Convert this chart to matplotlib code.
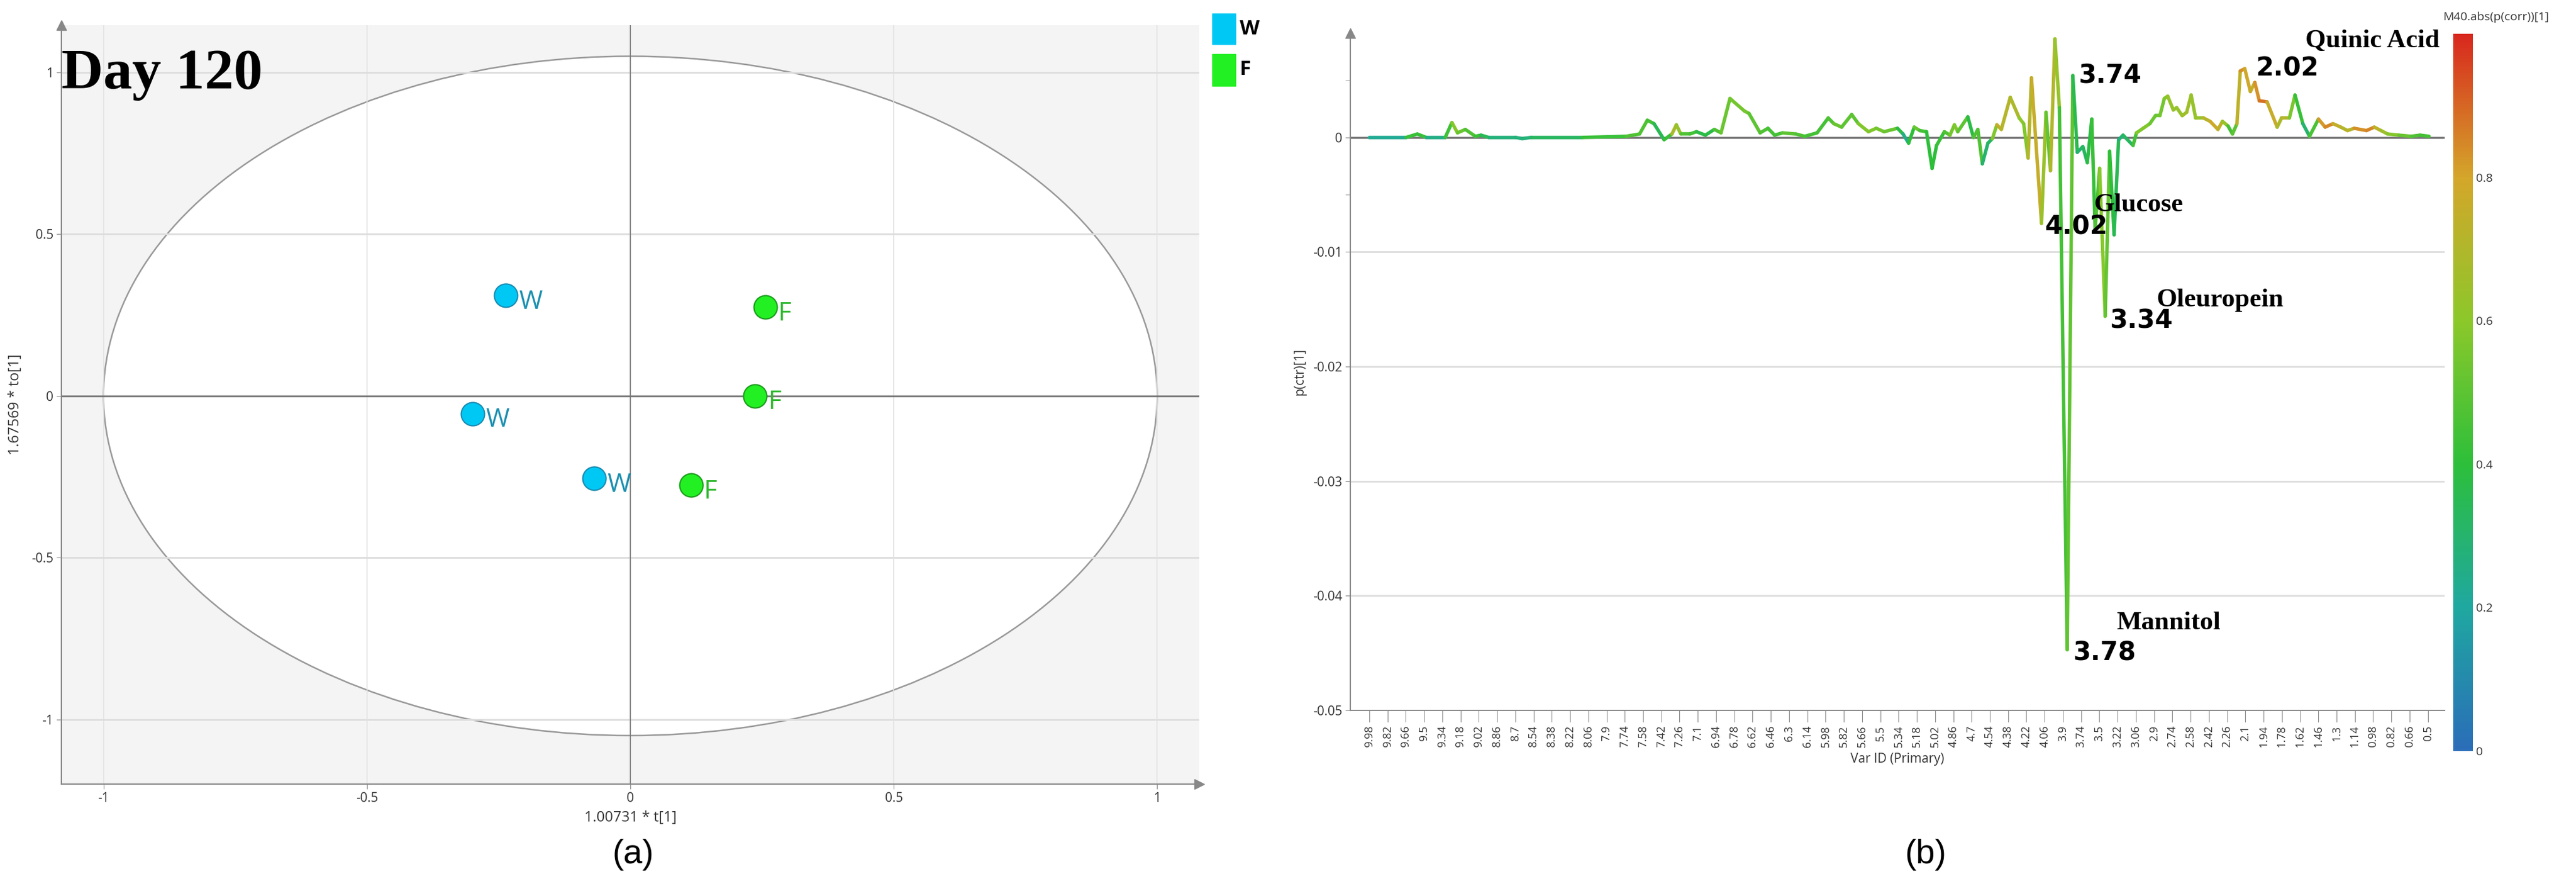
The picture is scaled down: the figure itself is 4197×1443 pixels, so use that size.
import numpy as np
import matplotlib.pyplot as plt
from matplotlib.collections import LineCollection
from matplotlib.colors import LinearSegmentedColormap
from matplotlib.patches import Ellipse

# ---- данные: панель (a), score plot
w_t = [-0.237, -0.30, -0.069]
w_to = [0.31, -0.055, -0.255]
f_t = [0.256, 0.237, 0.115]
f_to = [0.274, 0.0, -0.276]

# ---- данные: панель (b), loadings p(ctr)[1] (x1e-3) и abs(p(corr))
ppm = [9.98, 9.65, 9.55, 9.47, 9.30, 9.24, 9.19, 9.12, 9.03, 8.98, 8.91, 8.67, 8.61, 8.53, 8.07,
       7.68, 7.56, 7.49, 7.43, 7.34, 7.27, 7.23, 7.19, 7.11, 7.05, 6.97, 6.89, 6.83, 6.75, 6.62,
       6.58, 6.48, 6.41, 6.35, 6.28, 6.16, 6.08, 5.97, 5.87, 5.82, 5.75, 5.66, 5.60, 5.51, 5.44,
       5.37, 5.25, 5.20, 5.15, 5.10, 5.05, 4.99, 4.94, 4.90, 4.83, 4.78, 4.74, 4.71, 4.62, 4.57,
       4.53, 4.49, 4.44, 4.40, 4.36, 4.32, 4.24, 4.16, 4.12, 4.08, 4.05, 3.96, 3.92, 3.88, 3.84,
       3.80, 3.73, 3.68, 3.64, 3.59, 3.55, 3.51, 3.48, 3.44, 3.39, 3.35, 3.31, 3.27, 3.23, 3.14,
       3.11, 3.05, 2.99, 2.94, 2.90, 2.86, 2.83, 2.78, 2.75, 2.70, 2.66, 2.62, 2.58, 2.51, 2.45,
       2.38, 2.34, 2.29, 2.25, 2.21, 2.18, 2.14, 2.09, 2.05, 2.01, 1.94, 1.85, 1.81, 1.74, 1.69,
       1.62, 1.56, 1.48, 1.42, 1.35, 1.28, 1.22, 1.16, 1.05, 0.98, 0.92, 0.86, 0.76, 0.65, 0.57,
       0.49]
loading = [0, 0, 0.3, 0, 0, 1.3, 0.4, 0.7, 0.1, 0.2, 0, 0, -0.1, 0, 0,
           0.1, 0.3, 1.5, 1.2, -0.2, 0.3, 1.1, 0.3, 0.3, 0.5, 0.2, 0.7, 0.4, 3.4, 2.3,
           2.1, 0.4, 0.8, 0.2, 0.4, 0.3, 0.1, 0.4, 1.7, 1.2, 0.9, 2.0, 1.2, 0.5, 0.8,
           0.5, 0.8, 0.3, -0.5, 0.9, 0.6, 0.5, -2.7, -0.7, 0.5, 0.2, 1.1, 0.5, 1.8, 0,
           0.7, -2.3, -0.5, -0.1, 1.1, 0.7, 3.5, 1.7, 1.2, -1.8, 5.2, -7.5, 2.2, -2.9, 8.6,
           2.6, -44.7, 5.4, -1.3, -0.8, -2.2, 1.6, -8.0, -2.7, -15.6, -1.2, -8.5, -0.2, 0.2, -0.7,
           0.4, 0.8, 1.2, 1.9, 1.9, 3.4, 3.6, 2.4, 2.6, 1.9, 2.2, 3.7, 1.7, 1.7, 1.4,
           0.7, 1.4, 1.0, 0.3, 1.2, 5.8, 6.0, 4.0, 4.8, 3.2, 3.1, 0.9, 1.7, 1.7, 3.7,
           1.2, 0.1, 1.6, 0.9, 1.2, 0.9, 0.6, 0.8, 0.6, 0.9, 0.6, 0.3, 0.2, 0.1, 0.2,
           0.1]
corr = [0.2, 0.25, 0.6, 0.25, 0.25, 0.62, 0.55, 0.5, 0.45, 0.4, 0.3, 0.25, 0.3, 0.25, 0.4,
        0.45, 0.5, 0.45, 0.45, 0.25, 0.6, 0.75, 0.5, 0.45, 0.45, 0.3, 0.45, 0.5, 0.55, 0.55,
        0.55, 0.45, 0.5, 0.4, 0.5, 0.5, 0.45, 0.45, 0.45, 0.5, 0.55, 0.45, 0.55, 0.6, 0.55,
        0.55, 0.5, 0.25, 0.25, 0.55, 0.5, 0.4, 0.4, 0.4, 0.45, 0.5, 0.6, 0.55, 0.45, 0.3,
        0.65, 0.3, 0.3, 0.35, 0.8, 0.7, 0.72, 0.65, 0.55, 0.6, 0.82, 0.7, 0.58, 0.45, 0.95,
        0.3, 0.6, 0.42, 0.3, 0.3, 0.35, 0.4, 0.45, 0.5, 0.68, 0.35, 0.45, 0.25, 0.3, 0.35,
        0.55, 0.6, 0.55, 0.5, 0.55, 0.55, 0.6, 0.65, 0.6, 0.65, 0.65, 0.65, 0.6, 0.65, 0.78,
        0.78, 0.7, 0.55, 0.35, 0.65, 0.82, 0.85, 0.72, 0.78, 0.88, 0.88, 0.65, 0.72, 0.68, 0.45,
        0.4, 0.2, 0.72, 0.92, 0.78, 0.72, 0.7, 0.75, 0.92, 0.78, 0.68, 0.62, 0.55, 0.5, 0.45,
        0.45]

xtick_labels = ['9.98', '9.82', '9.66', '9.5', '9.34', '9.18', '9.02', '8.86', '8.7', '8.54',
                '8.38', '8.22', '8.06', '7.9', '7.74', '7.58', '7.42', '7.26', '7.1', '6.94',
                '6.78', '6.62', '6.46', '6.3', '6.14', '5.98', '5.82', '5.66', '5.5', '5.34',
                '5.18', '5.02', '4.86', '4.7', '4.54', '4.38', '4.22', '4.06', '3.9', '3.74',
                '3.5', '3.22', '3.06', '2.9', '2.74', '2.58', '2.42', '2.26', '2.1', '1.94',
                '1.78', '1.62', '1.46', '1.3', '1.14', '0.98', '0.82', '0.66', '0.5']

cmap = LinearSegmentedColormap.from_list('simca', [
    (0.0, '#2a6db8'), (0.2, '#1fa8a0'), (0.4, '#2dbf3a'), (0.6, '#8cc82a'),
    (0.8, '#d4a62a'), (1.0, '#d8281e')])

W, H = 4197, 1443
fig = plt.figure(figsize=(W / 100, H / 100), dpi=100)
plt.rcParams['font.family'] = ['Open Sans', 'DejaVu Sans']

def ax_rect(x0, y0, x1, y1):
    return [x0 / W, 1 - y1 / H, (x1 - x0) / W, (y1 - y0) / H]

def style_axes(ax):
    for s in ['top', 'right']:
        ax.spines[s].set_visible(False)
    for s in ['left', 'bottom']:
        ax.spines[s].set_color('#888888')
        ax.spines[s].set_linewidth(1.5)
    ax.tick_params(colors='#888888', labelcolor='#333333', labelsize=15, length=6)
    ax.plot(0, 1, '^', color='#888888', ms=12, transform=ax.transAxes, clip_on=False)

# ---- (a)
ax1 = fig.add_axes(ax_rect(100, 41, 1954, 1277))
ax1.set_facecolor('#f4f4f4')
ax1.add_patch(Ellipse((0, 0), 2, 2.1, facecolor='white', edgecolor='#999999', lw=1.8, zorder=0.5))
ax1.set_xlim(-1.08, 1.08)
ax1.set_ylim(-1.2, 1.146)
ax1.set_xticks([-1, -0.5, 0, 0.5, 1])
ax1.set_xticklabels(['-1', '-0.5', '0', '0.5', '1'])
ax1.set_yticks([-1, -0.5, 0, 0.5, 1])
ax1.set_yticklabels(['-1', '-0.5', '0', '0.5', '1'])
for v in [-1, -0.5, 0.5, 1]:
    ax1.axvline(v, color='#e2e2e2', lw=1.2, zorder=0.6)
    ax1.axhline(v, color='#dddddd', lw=2, zorder=0.6)
ax1.axvline(0, color='#777777', lw=1.2, zorder=0.7)
ax1.axhline(0, color='#777777', lw=2, zorder=0.7)
style_axes(ax1)
ax1.plot(1, 0, '>', color='#888888', ms=12, transform=ax1.transAxes, clip_on=False)
ax1.scatter(w_t, w_to, s=750, c='#00c8f5', edgecolors='#1a8ab0', linewidths=1.5, zorder=3)
ax1.scatter(f_t, f_to, s=750, c='#22f022', edgecolors='#1c9a1c', linewidths=1.5, zorder=3)
for x, y in zip(w_t, w_to):
    ax1.text(x + 0.025, y - 0.02, 'W', color='#1a8fb0', fontsize=30, va='center', zorder=4)
for x, y in zip(f_t, f_to):
    ax1.text(x + 0.025, y - 0.02, 'F', color='#2db82d', fontsize=30, va='center', zorder=4)
ax1.set_xlabel('1.00731 * t[1]', fontsize=17, color='#333333', labelpad=6)
ax1.set_ylabel('1.67569 * to[1]', fontsize=17, color='#333333', labelpad=10)
ax1.text(0.0, 0.935, 'Day 120', transform=ax1.transAxes, fontsize=68, fontweight='bold',
         family='Liberation Serif', va='center', ha='left')

# легенда справа от (a)
fig.patches.append(plt.Rectangle((1975 / W, 1 - 72 / H), 38 / W, 50 / H, color='#00c8f5',
                                 transform=fig.transFigure))
fig.patches.append(plt.Rectangle((1975 / W, 1 - 140 / H), 38 / W, 52 / H, color='#22f022',
                                 transform=fig.transFigure))
fig.text(2020 / W, 1 - 47 / H, 'W', fontsize=24, fontweight='bold', va='center')
fig.text(2020 / W, 1 - 114 / H, 'F', fontsize=24, fontweight='bold', va='center')

# ---- (b)
ax2 = fig.add_axes(ax_rect(2200, 54, 3983, 1157))
pts = np.column_stack([ppm, np.array(loading) * 1e-3])
segs = np.stack([pts[:-1], pts[1:]], axis=1)
cseg = (np.array(corr[:-1]) + np.array(corr[1:])) / 2
lc = LineCollection(segs, cmap=cmap, norm=plt.Normalize(0, 1), linewidths=4, zorder=3,
                    capstyle='round', joinstyle='round')
lc.set_array(cseg)
ax2.add_collection(lc)
ax2.set_xlim(10.15, 0.35)
ax2.set_ylim(-0.05, 0.0091)
ax2.set_yticks([-0.05, -0.04, -0.03, -0.02, -0.01, 0])
ax2.set_yticklabels(['-0.05', '-0.04', '-0.03', '-0.02', '-0.01', '0'])
ax2.set_yticks([0.005, -0.005], minor=True)
for v in [-0.04, -0.03, -0.02, -0.01]:
    ax2.axhline(v, color='#dddddd', lw=2, zorder=1)
ax2.axhline(0, color='#777777', lw=2.5, zorder=2)
ax2.set_xticks(np.linspace(9.98, 0.5, len(xtick_labels)))
ax2.set_xticklabels(xtick_labels, rotation=90, fontsize=13)
style_axes(ax2)
ax2.tick_params(axis='y', which='minor', length=6, colors='#888888')
ax2.tick_params(axis='x', labelsize=13, length=14)
ax2.set_xlabel('Var ID (Primary)', fontsize=15, color='#333333', labelpad=6)
ax2.set_ylabel('p(ctr)[1]', fontsize=15, color='#333333', labelpad=8)

num_kw = dict(fontsize=30, fontweight='bold', family='DejaVu Sans', va='center', ha='left', zorder=5)
name_kw = dict(fontsize=31, fontweight='bold', family='Liberation Serif', va='center', ha='left', zorder=5)
ax2.text(3.63, 0.0054, '3.74', **num_kw)
ax2.text(2.04, 0.0060, '2.02', **num_kw)
ax2.text(1.60, 0.0084, 'Quinic Acid', **name_kw)
ax2.text(3.49, -0.0059, 'Glucose', **name_kw)
ax2.text(3.93, -0.0078, '4.02', **num_kw)
ax2.text(2.93, -0.0142, 'Oleuropein', **name_kw)
ax2.text(3.35, -0.0160, '3.34', **num_kw)
ax2.text(3.29, -0.0424, 'Mannitol', **name_kw)
ax2.text(3.68, -0.0450, '3.78', **num_kw)

# colorbar
cax = fig.add_axes(ax_rect(3997, 55, 4029, 1223))
cb = fig.colorbar(plt.cm.ScalarMappable(norm=plt.Normalize(0, 1), cmap=cmap), cax=cax)
cb.outline.set_visible(False)
cb.set_ticks([0, 0.2, 0.4, 0.6, 0.8])
cb.ax.set_yticklabels(['0', '0.2', '0.4', '0.6', '0.8'])
cb.ax.tick_params(labelsize=14, length=0, colors='#333333')
fig.text(3980 / W, 1 - 28 / H, 'M40.abs(p(corr))[1]', fontsize=14, color='#333333', va='center')

fig.text(1031 / W, 1 - 1392 / H, '(a)', fontsize=40, ha='center', va='center', family='Liberation Sans')
fig.text(3137 / W, 1 - 1392 / H, '(b)', fontsize=40, ha='center', va='center', family='Liberation Sans')

fig.savefig('out.png', dpi=100)
